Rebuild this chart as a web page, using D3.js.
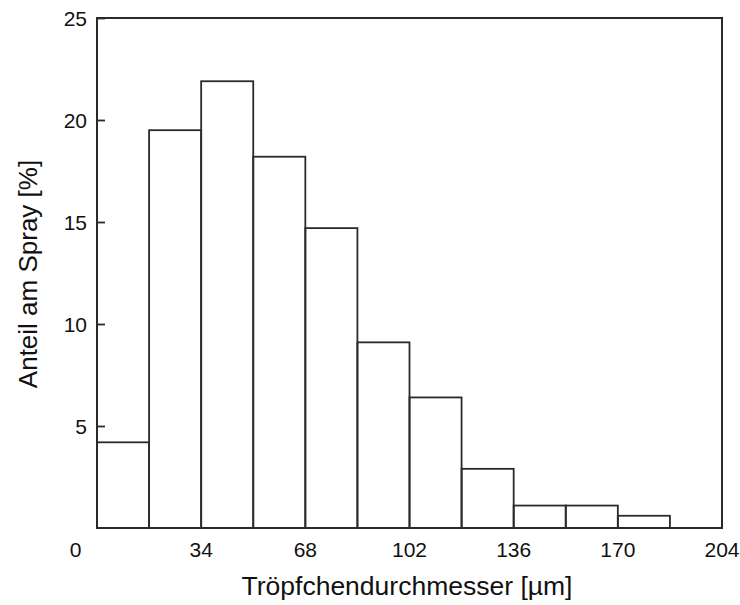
<!DOCTYPE html>
<html>
<head>
<meta charset="utf-8">
<script src="https://cdn.jsdelivr.net/npm/d3@7"></script>
<style>
  body { margin: 0; background: #fff; }
  text { font-family: "Liberation Sans", Arial, sans-serif; fill: #111; }
</style>
</head>
<body>
<svg id="chart" width="740" height="605"></svg>
<script>
// klassen: untere grenze jedes bins (breite 17 µm)
var binStart = [0, 17, 34, 51, 68, 85, 102, 119, 136, 153, 170];
var binWidth = 17;
var anteil = [4.2, 19.5, 21.9, 18.2, 14.7, 9.1, 6.4, 2.9, 1.1, 1.1, 0.6];
var xTicks = [34, 68, 102, 136, 170, 204];
var yTicks = [5, 10, 15, 20, 25];

var margin = {top: 18, right: 18, bottom: 77, left: 97};
var width = 740 - margin.left - margin.right;
var height = 605 - margin.top - margin.bottom;

var svg = d3.select('#chart');
var g = svg.append('g')
    .attr('transform', 'translate(' + margin.left + ',' + margin.top + ')');

var x = d3.scaleLinear().domain([0, 204]).range([0, width]);
var y = d3.scaleLinear().domain([0, 25]).range([height, 0]);

// balken
g.selectAll('rect.bar')
  .data(anteil)
  .enter()
  .append('rect')
  .attr('class', 'bar')
  .attr('x', function(d, i) { return x(binStart[i]); })
  .attr('y', function(d) { return y(d); })
  .attr('width', function(d, i) { return x(binStart[i] + binWidth) - x(binStart[i]); })
  .attr('height', function(d) { return height - y(d); })
  .attr('fill', 'none')
  .attr('stroke', '#2a2a2a')
  .attr('stroke-width', 1.8);

// rahmen
g.append('rect')
  .attr('x', 0).attr('y', 0)
  .attr('width', width).attr('height', height)
  .attr('fill', 'none')
  .attr('stroke', '#2a2a2a')
  .attr('stroke-width', 2);

// y achse: ticks nach innen
var yAxis = g.append('g')
  .call(d3.axisRight(y).tickValues(yTicks).tickSize(8).tickFormat(''));
yAxis.select('.domain').remove();
yAxis.selectAll('line').attr('stroke', '#2a2a2a').attr('stroke-width', 1.8);

g.selectAll('text.ylab')
  .data(yTicks)
  .enter()
  .append('text')
  .attr('class', 'ylab')
  .attr('x', -10)
  .attr('y', function(d) { return y(d); })
  .attr('dy', '0.36em')
  .attr('text-anchor', 'end')
  .style('font-size', '21px')
  .text(function(d) { return d; });

// x achse: nur beschriftung
g.selectAll('text.xlab')
  .data(xTicks)
  .enter()
  .append('text')
  .attr('class', 'xlab')
  .attr('x', function(d) { return x(d); })
  .attr('y', height + 29)
  .attr('text-anchor', 'middle')
  .style('font-size', '21px')
  .text(function(d) { return d; });

// null im ursprung
g.append('text')
  .attr('x', -21.5)
  .attr('y', height + 29)
  .attr('text-anchor', 'middle')
  .style('font-size', '21px')
  .text('0');

// achsentitel
svg.append('text')
  .attr('x', 407)
  .attr('y', 595)
  .attr('text-anchor', 'middle')
  .style('font-size', '26.5px')
  .text('Tröpfchendurchmesser [µm]');

svg.append('text')
  .attr('transform', 'translate(37,274) rotate(-90)')
  .attr('text-anchor', 'middle')
  .style('font-size', '26px')
  .text('Anteil am Spray [%]');
</script>
</body>
</html>
